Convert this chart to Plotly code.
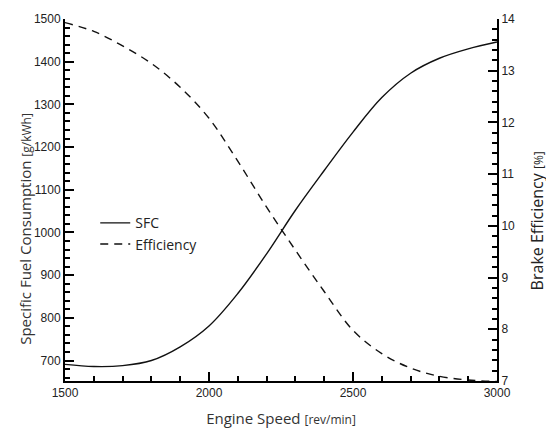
import plotly.graph_objects as go

speed = [1500, 1600, 1700, 1800, 1900, 2000, 2100, 2200, 2300, 2400,
         2500, 2600, 2700, 2800, 2900, 3000]
sfc = [691, 686, 688, 700, 732, 781, 857, 950, 1052, 1145,
       1235, 1316, 1373, 1408, 1430, 1446]
eff = [13.93, 13.76, 13.48, 13.14, 12.68, 12.08, 11.25, 10.36, 9.53, 8.73,
       7.98, 7.53, 7.25, 7.09, 7.02, 6.99]

x_range = [1500, 3000]
sfc_range = [652, 1500]
eff_range = [7, 14]

BLACK = "#000000"
tickfont = dict(family="Liberation Sans, Arial", size=12, color="#222222")
titlefont = dict(family="Open Sans, Noto Sans", size=15, color="#333333")

fig = go.Figure()
fig.add_trace(go.Scatter(x=speed, y=sfc, name="SFC", mode="lines",
                         line=dict(color="#111111", width=1.4, shape="spline", smoothing=1.0)))
fig.add_trace(go.Scatter(x=speed, y=eff, name="Efficiency", mode="lines", yaxis="y2",
                         line=dict(color="#111111", width=1.4, dash="8px,6px", shape="spline", smoothing=1.0)))

fig.update_layout(
    width=546, height=437,
    margin=dict(l=65, r=49, t=13, b=49),
    plot_bgcolor="white", paper_bgcolor="white",
    showlegend=True,
    legend=dict(x=0.07, y=0.48, xanchor="left", yanchor="top", bgcolor="rgba(0,0,0,0)",
                font=dict(family="Open Sans, Noto Sans", size=14, color="#222222"),
                tracegroupgap=0),
    xaxis=dict(range=x_range, tickvals=[1500, 2000, 2500, 3000],
               ticks="inside", ticklen=9, tickwidth=2, tickcolor=BLACK,
               showline=True, linecolor=BLACK, linewidth=2,
               minor=dict(dtick=100, ticks="inside", ticklen=5, tickwidth=1.5, tickcolor=BLACK),
               tickfont=tickfont,
               title=dict(text="Engine Speed <span style='font-size:12px'>[rev/min]</span>",
                          font=titlefont, standoff=14)),
    yaxis=dict(range=sfc_range, dtick=100, tick0=700,
               ticks="inside", ticklen=9, tickwidth=2, tickcolor=BLACK,
               showline=True, linecolor=BLACK, linewidth=2,
               minor=dict(dtick=20, ticks="inside", ticklen=5, tickwidth=1.5, tickcolor=BLACK),
               tickfont=tickfont),
    yaxis2=dict(range=eff_range, overlaying="y", side="right", dtick=1, tick0=7,
                ticks="inside", ticklen=9, tickwidth=2, tickcolor=BLACK,
                showline=True, linecolor=BLACK, linewidth=2,
                minor=dict(dtick=0.2, ticks="inside", ticklen=5, tickwidth=1.5, tickcolor=BLACK),
                tickfont=tickfont),
    annotations=[
        dict(text="Specific Fuel Consumption <span style='font-size:12px'>[g/kWh]</span>",
             xref="paper", yref="paper", x=-0.093, y=0.42, xanchor="center", yanchor="middle",
             textangle=-90, showarrow=False, font=titlefont),
        dict(text="Brake Efficiency <span style='font-size:12px'>[%]</span>",
             xref="paper", yref="paper", x=1.092, y=0.443, xanchor="center", yanchor="middle",
             textangle=-90, showarrow=False,
             font=dict(family="Open Sans, Noto Sans", size=16, color="#222222")),
    ],
)

fig.write_html("out.html")
